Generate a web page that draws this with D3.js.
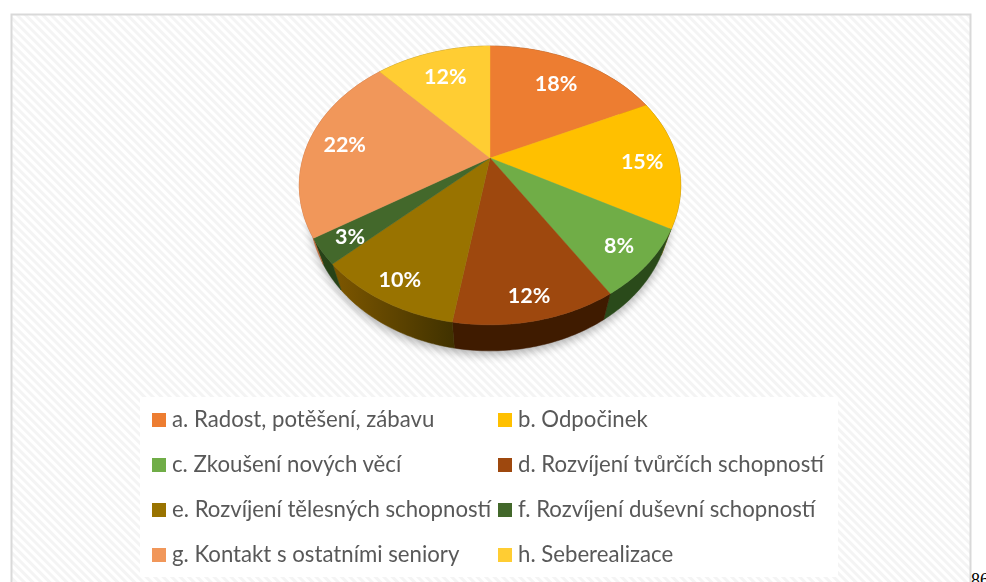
<!DOCTYPE html>
<html><head><meta charset="utf-8">
<script src="https://cdn.jsdelivr.net/npm/d3@7"></script>
<style>html,body{margin:0;padding:0;background:#fff;overflow:hidden}svg{display:block}text{font-family:Lato,"Open Sans",sans-serif}</style>
</head><body><svg id="c" width="986" height="582"></svg>
<script>
const categories=["a. Radost, potěšení, zábavu","b. Odpočinek","c. Zkoušení nových věcí","d. Rozvíjení tvůrčích schopností","e. Rozvíjení tělesných schopností","f. Rozvíjení duševní schopností","g. Kontakt s ostatními seniory","h. Seberealizace"];
const values=[18,15,8,11.6,10.4,3,22.2,11.8];
const colors=["#ed7d31","#ffc000","#70ad47","#9e480e","#997300","#43682b","#f1975a","#ffcd33"];
const wallColors=["#8c4a1d","#977100","#2a4a1a","#3f1b00","url(#wallE)","#274217","#c06a3a","#977a1f"];
const labelReach=[.74,.81,.84,.87,.87,.85,.8,.75];

const svg=d3.select("#c");
const defs=svg.append("defs");
const hatch=defs.append("pattern").attr("id","hatch").attr("width",6).attr("height",6).attr("patternUnits","userSpaceOnUse").attr("patternTransform","rotate(-45)");
hatch.append("rect").attr("width",6).attr("height",6).attr("fill","#fff");
hatch.append("rect").attr("width",3).attr("height",6).attr("fill","#f4f4f4");
const ge=defs.append("linearGradient").attr("id","wallE").attr("gradientUnits","userSpaceOnUse").attr("x1",340).attr("x2",456).attr("y1",0).attr("y2",0);
ge.append("stop").attr("offset",0).attr("stop-color","#7a5500");
ge.append("stop").attr("offset",1).attr("stop-color","#3f3100");
defs.append("filter").attr("id","blur").attr("x","-20%").attr("y","-20%").attr("width","140%").attr("height","140%").append("feGaussianBlur").attr("stdDeviation",5);
defs.append("filter").attr("id","soft").attr("x","-10%").attr("y","-30%").attr("width","120%").attr("height","160%").append("feGaussianBlur").attr("stdDeviation",.35);

svg.append("rect").attr("x",11.5).attr("y",14.5).attr("width",959).attr("height",570).attr("fill","url(#hatch)").attr("stroke","#d9d9d9").attr("stroke-width",2);
svg.append("rect").attr("x",140).attr("y",397).attr("width",698).attr("height",180).attr("fill","#fff").attr("opacity",.92);

// perspective projection of the pie disc
const cx=490,cy=158,ax=187,by=134,k=-.197,depth=26,shrink=.945;
const project=(angle,r=1)=>{const u=r*Math.sin(angle),v=-r*Math.cos(angle),w=1+k*v;return [cx+ax*u/w,cy+by*v/w];};
const projectLow=(angle)=>{const [x,y]=project(angle);return [cx+(x-cx)*shrink,y+depth];};
const line=d3.line();
const pie=d3.pie().sort(null).value(d=>d).startAngle(0).endAngle(2*Math.PI);
const arcs=pie(values);
const sample=(a,f)=>d3.range(0,41).map(i=>f(a.startAngle+(a.endAngle-a.startAngle)*i/40));

// soft shadow
const all=d3.range(0,121).map(i=>projectLow(i/120*2*Math.PI));
svg.append("path").attr("d",line(all)+"Z").attr("fill","#000").attr("opacity",.3).attr("filter","url(#blur)").attr("transform","translate(0,4)");

svg.append("g").selectAll("path").data(arcs).join("path")
  .attr("d",a=>line(sample(a,t=>project(t)).concat(sample(a,projectLow).reverse()))+"Z")
  .attr("fill",(a,i)=>wallColors[i]).attr("stroke",(a,i)=>wallColors[i]).attr("stroke-width",.5);
svg.append("g").selectAll("path").data(arcs).join("path")
  .attr("d",a=>line([[cx,cy]].concat(sample(a,t=>project(t))))+"Z")
  .attr("fill",(a,i)=>colors[i]).attr("stroke",(a,i)=>colors[i]).attr("stroke-width",.4);

svg.append("g").attr("filter","url(#soft)").selectAll("text").data(arcs).join("text")
  .attr("x",(a,i)=>project((a.startAngle+a.endAngle)/2,labelReach[i])[0])
  .attr("y",(a,i)=>project((a.startAngle+a.endAngle)/2,labelReach[i])[1])
  .attr("text-anchor","middle").attr("dominant-baseline","central")
  .attr("fill","#fff").attr("font-weight",700).attr("font-size",21.5)
  .text(a=>d3.format(".0f")(a.value)+"%");

// legend
const legX=d3.scalePoint().domain([0,1]).range([152,498]);
const legY=d3.scalePoint().domain([0,1,2,3]).range([420,555]);
const leg=svg.append("g").selectAll("g").data(categories).join("g")
  .attr("transform",(d,i)=>`translate(${legX(i%2)},${legY(Math.floor(i/2))})`);
leg.append("rect").attr("y",-7).attr("width",14).attr("height",14).attr("fill",(d,i)=>colors[i]);
leg.append("text").attr("x",20).attr("y",-1.5).attr("dominant-baseline","central").attr("fill","#595959").attr("font-size",22.2).attr("filter","url(#soft)").text(d=>d);

svg.append("text").attr("x",971).attr("y",586).attr("font-size",18).style("font-family","'Liberation Serif',serif").attr("fill","#000").text("86");
</script></body></html>
